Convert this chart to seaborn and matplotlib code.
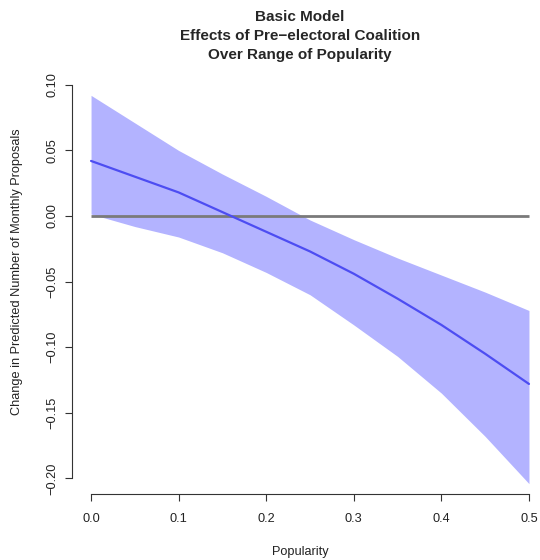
import numpy as np
import pandas as pd
import seaborn as sns
import matplotlib
matplotlib.use("Agg")
import matplotlib.pyplot as plt

popularity = [0.0, 0.05, 0.10, 0.15, 0.20, 0.25, 0.30, 0.35, 0.40, 0.45, 0.50]
effect = [0.042, 0.030, 0.018, 0.003, -0.012, -0.027, -0.044, -0.063, -0.083, -0.105, -0.128]
upper = [0.092, 0.071, 0.050, 0.032, 0.015, -0.003, -0.018, -0.032, -0.045, -0.058, -0.072]
lower = [0.0015, -0.008, -0.016, -0.028, -0.043, -0.060, -0.083, -0.107, -0.135, -0.168, -0.204]
xticks = [0.0, 0.1, 0.2, 0.3, 0.4, 0.5]
yticks = [-0.20, -0.15, -0.10, -0.05, 0.00, 0.05, 0.10]

df = pd.DataFrame({"Popularity": popularity, "effect": effect,
                   "upper": upper, "lower": lower})

sns.set_style("white")
plt.rcParams['font.family'] = ['Liberation Sans', 'DejaVu Sans']

W, H = 540, 560
fig = plt.figure(figsize=(W / 100, H / 100), dpi=100)
left_px, right_px, top_px, bot_px = 72.3, 540, 80, 494
ax = fig.add_axes([left_px / W, 1 - bot_px / H, (right_px - left_px) / W, (bot_px - top_px) / H])

ax.fill_between(df["Popularity"], df["lower"], df["upper"], color="#b3b3ff", linewidth=0)
ax.plot([0, 0.5], [0, 0], color="#7a7a7a", lw=2.0, solid_capstyle="butt")
sns.lineplot(data=df, x="Popularity", y="effect", ax=ax, color="#4d4df2", lw=1.6)

ax.set_xlim(-0.0214, 0.5126)
ax.set_ylim(-0.2119, 0.1037)
ax.set_xticks(xticks)
ax.set_xticklabels([f"{v:.1f}" for v in xticks])
ax.set_yticks(yticks)
ax.set_yticklabels([f"{v:.2f}".replace("-", "\u2212") for v in yticks], rotation=90, va="center")
ax.set_xlabel("")
ax.set_ylabel("")

for s in ["top", "right"]:
    ax.spines[s].set_visible(False)
for s in ["left", "bottom"]:
    ax.spines[s].set_color("#333333")
    ax.spines[s].set_linewidth(0.8)
ax.spines["bottom"].set_bounds(0, 0.5)
ax.spines["left"].set_bounds(-0.2, 0.1)
ax.tick_params(axis="both", direction="out", length=5, width=0.8, color="#333333",
               labelsize=9.2, labelcolor="#222222", bottom=True, left=True)
ax.tick_params(axis="x", pad=8.5)
ax.tick_params(axis="y", pad=5)

fig.text(300 / W, 1 - 17 / H, "Basic Model", ha="center", va="center", fontsize=11, fontweight="bold")
fig.text(300 / W, 1 - 36 / H, "Effects of Pre\u2212electoral Coalition", ha="center", va="center", fontsize=11, fontweight="bold")
fig.text(300 / W, 1 - 55 / H, "Over Range of Popularity", ha="center", va="center", fontsize=11, fontweight="bold")
fig.text(300 / W, 1 - 552 / H, "Popularity", ha="center", va="center", fontsize=9.2, color="#222222")
fig.text(17 / W, 1 - 272 / H, "Change in Predicted Number of Monthly Proposals", ha="center", va="center",
         rotation=90, fontsize=9.2, color="#222222")

fig.savefig("out.png", dpi=100)
